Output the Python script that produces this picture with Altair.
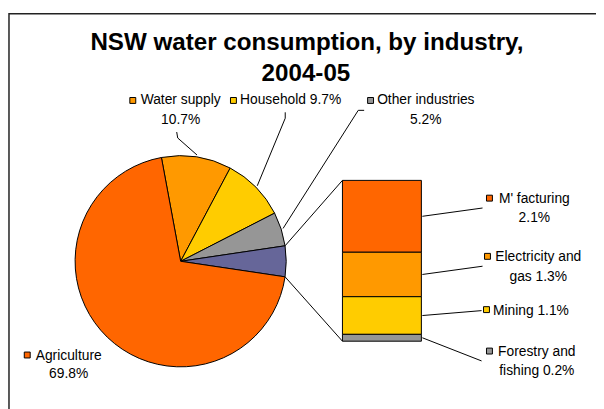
import math
import pandas as pd
import altair as alt

# ---------------- data ----------------
bar_names = ["M' facturing", "Electricity and gas", "Mining", "Forestry and fishing"]
bar_values = [2.1, 1.3, 1.1, 0.2]

pie_names = ["Water supply", "Household", "Other industries", "Other (detail)", "Agriculture"]
pie_values = [10.7, 9.7, 5.2, round(sum(bar_values), 1), 69.8]

label_line1 = ["Water supply", "Household 9.7%", "Other industries", "Agriculture",
               "M' facturing", "Electricity and", "Mining 1.1%", "Forestry and"]
label_line2 = ["10.7%", "", "5.2%", "69.8%", "2.1%", "gas 1.3%", "", "fishing 0.2%"]

title_lines = ["NSW water consumption, by industry,", "2004-05"]

# ---------------- styles ----------------
pie_colors = ["#FF9900", "#FFCC00", "#969696", "#666699", "#FF6600"]
bar_colors = ["#FF6600", "#FF9900", "#FFCC00", "#969696"]
label_colors = ["#FF9900", "#FFCC00", "#969696", "#FF6600",
                "#FF6600", "#FF9900", "#FFCC00", "#969696"]
FONT = "Liberation Sans"

# ---------------- layout (page pixels, converted to view) ----------------
W, H = 596, 401
OFF = 8
def vx(x): return x - OFF
def vy(y): return y - OFF

CX, CY, R = vx(183), vy(262), 107
START_DEG = -10.5
BAR_X0, BAR_X1 = vx(347), vx(427)
BAR_TOP, BAR_BOT = vy(180), vy(343)

# label layout: (text centre x, line1 centre y, line2 centre y, square x, square y)
label_pos = [
    (183, 98, 118, 134.5, 99),
    (294.5, 98, None, 236.5, 99),
    (431.5, 98, 118, 375.5, 99),
    (69.5, 357, 375, 27.5, 357),
    (541.5, 198, 217, 496, 198),
    (545.5, 257, 277, 494, 257),
    (538, 311, None, 493, 311),
    (544, 353, 372, 496, 353),
]
BASE_SHIFT = 5.0

# leader bends near pie labels (page px), pie end computed from slice mid angle
pie_leader_pts = {
    0: [(179, 131), (180, 137)],
    1: [(289, 111), (289, 117)],
    2: [(369, 109), (363, 109)],
}
bar_leader_ends = [(489, 208), (489, 267), (488, 312), (488, 363)]

# ---------------- geometry from data ----------------
total = sum(pie_values)
def ang_pt(frac, r):
    a = math.radians(START_DEG + 360.0 * frac)
    return CX + r * math.sin(a), CY - r * math.cos(a)

cum = [0.0]
for v in pie_values:
    cum.append(cum[-1] + v)

segs = []
for i, pts in pie_leader_pts.items():
    mid = (cum[i] + cum[i + 1]) / 2 / total
    ex, ey = ang_pt(mid, 109)
    p = [(vx(a), vy(b)) for a, b in pts] + [(ex, ey)]
    for (x1, y1), (x2, y2) in zip(p[:-1], p[1:]):
        segs.append(dict(x=x1, y=y1, x2=x2, y2=y2))

# connectors from the detail slice to the bar corners
sx, sy = ang_pt(cum[3] / total, R)
segs.append(dict(x=sx, y=sy, x2=BAR_X0, y2=BAR_TOP))
ex_, ey_ = ang_pt(cum[4] / total, R)
segs.append(dict(x=ex_, y=ey_, x2=BAR_X0, y2=BAR_BOT))

# bar leaders from segment middles
bar_total = sum(bar_values)
top_cum = 0.0
for i, v in enumerate(bar_values):
    mid_val = bar_total - (top_cum + v / 2)
    ymid = BAR_BOT + (BAR_TOP - BAR_BOT) * mid_val / bar_total
    top_cum += v
    lx, ly = bar_leader_ends[i]
    segs.append(dict(x=BAR_X1 + 1, y=ymid, x2=vx(lx), y2=vy(ly)))
seg_df = pd.DataFrame(segs)

pie_df = pd.DataFrame({"name": pie_names, "value": pie_values,
                       "color": pie_colors, "ord": list(range(len(pie_names)))})
bar_df = pd.DataFrame({"name": bar_names, "value": bar_values, "color": bar_colors,
                       "ord": list(range(len(bar_names)))[::-1]})

txt = []
sq = []
for i, (cx, y1, y2, sqx, sqy) in enumerate(label_pos):
    txt.append(dict(x=vx(cx), y=vy(y1 + BASE_SHIFT), t=label_line1[i]))
    if label_line2[i]:
        txt.append(dict(x=vx(cx), y=vy(y2 + BASE_SHIFT), t=label_line2[i]))
    sq.append(dict(x=vx(sqx), y=vy(sqy), color=label_colors[i]))
txt_df = pd.DataFrame(txt)
sq_df = pd.DataFrame(sq)
title_df = pd.DataFrame({"x": [vx(311), vx(310)], "y": [vy(48), vy(79)], "t": title_lines})

XS = alt.Scale(domain=[0, W], range=[0, W], nice=False, zero=False)
YS = alt.Scale(domain=[0, H], range=[0, H], nice=False, zero=False)

a0 = math.radians(360 + START_DEG)

border = alt.Chart(pd.DataFrame({"k": [0]})).mark_rect(
    fill="white", stroke="#222222", strokeWidth=1.5
).encode(x=alt.value(1), y=alt.value(3), x2=alt.value(W + 40), y2=alt.value(H + 40))

pie = alt.Chart(pie_df).mark_arc(outerRadius=R, stroke="black", strokeWidth=1).encode(
    theta=alt.Theta("value:Q", stack=True, scale=alt.Scale(range=[a0, a0 + 2 * math.pi])),
    order=alt.Order("ord:Q"),
    fill=alt.Fill("color:N", scale=None),
    x=alt.value(CX), y=alt.value(CY),
)

bar = alt.Chart(bar_df).transform_stack(
    stack="value", as_=["v0", "v1"], groupby=[], sort=[alt.SortField("ord", order="ascending")]
).mark_rect(stroke="black", strokeWidth=1).encode(
    y=alt.Y("v0:Q",
            scale=alt.Scale(domain=[0, bar_total], range=[BAR_BOT, BAR_TOP], nice=False, zero=False),
            axis=None),
    y2="v1:Q",
    x=alt.value(BAR_X0), x2=alt.value(BAR_X1),
    fill=alt.Fill("color:N", scale=None),
)

lines = alt.Chart(seg_df).mark_rule(color="black", strokeWidth=1).encode(
    x=alt.X("x:Q", scale=XS, axis=None), y=alt.Y("y:Q", scale=YS, axis=None),
    x2="x2:Q", y2="y2:Q",
)

squares = alt.Chart(sq_df).mark_square(size=36, stroke="black", strokeWidth=1, opacity=1).encode(
    x=alt.X("x:Q", scale=XS, axis=None), y=alt.Y("y:Q", scale=YS, axis=None),
    fill=alt.Fill("color:N", scale=None),
)

labels = alt.Chart(txt_df).mark_text(font=FONT, fontSize=14, align="center",
                                     baseline="alphabetic", color="black").encode(
    x=alt.X("x:Q", scale=XS, axis=None), y=alt.Y("y:Q", scale=YS, axis=None),
    text="t:N",
)

title = alt.Chart(title_df).mark_text(font=FONT, fontSize=24.5, fontWeight="bold",
                                      align="center", baseline="alphabetic", color="black").encode(
    x=alt.X("x:Q", scale=XS, axis=None), y=alt.Y("y:Q", scale=YS, axis=None),
    text="t:N",
)

chart = alt.layer(border, pie, bar, lines, squares, labels, title).resolve_scale(
    y="independent"
).properties(
    width=W, height=H, autosize=alt.AutoSizeParams(type="none"), padding=0
).configure_view(strokeWidth=0)

chart.save("out.html", embed_options={"renderer": "svg", "actions": False})
